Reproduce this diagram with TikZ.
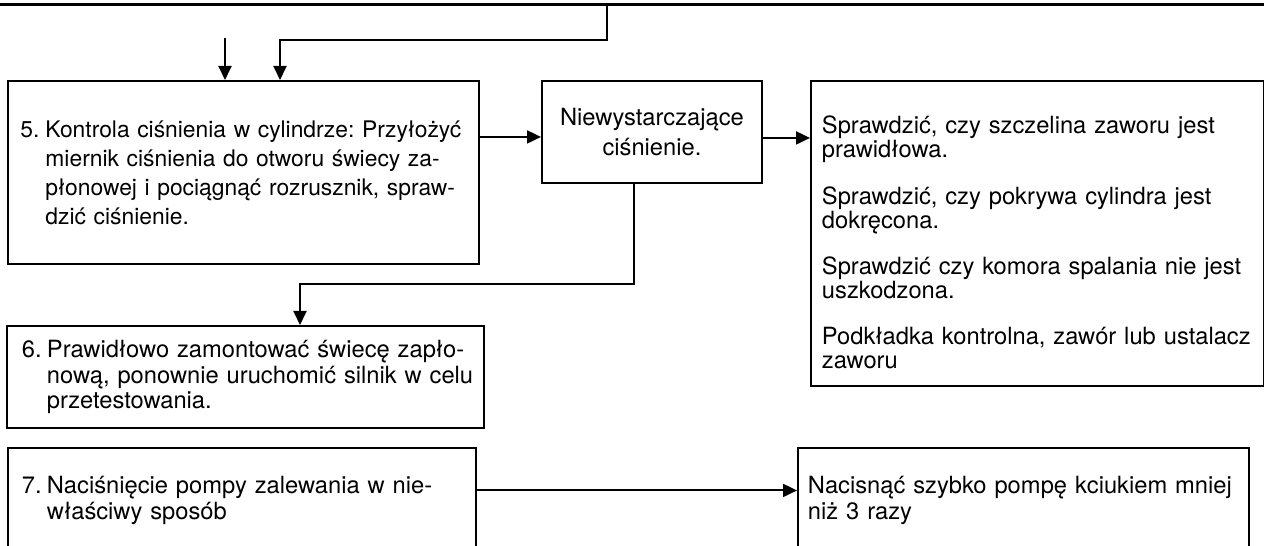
\documentclass[tikz,border=0pt]{standalone}
\usepackage{fontspec}
\setmainfont{TeX Gyre Heros}
\usetikzlibrary{arrows.meta}
\frenchspacing
\tikzset{
	box/.style={draw,rectangle,anchor=north west,inner xsep=0.28cm,inner ysep=0pt,
		font=\fontsize{13.5}{14.7}\selectfont},
	arr/.style={-{Triangle[length=0.28cm,width=0.26cm]}},
}
% one full (justified) line, one last line, number and indent
\newcommand{\jline}[1]{\hbox to\hsize{#1}}
\newcommand{\lline}[1]{\hbox to\hsize{#1\hfil}}
\newcommand{\nr}[1]{\makebox[0.5cm][l]{#1}}
\newcommand{\ind}{\hskip0.5cm\relax}
\begin{document}
\begin{tikzpicture}[line width=1.1pt,x=0.02cm,y=-0.02cm]
\clip (0,0) rectangle (1264,546);
\draw[line width=1.7pt] (0,5) -- (1264,5);
\node[box,text width=8.92cm,inner xsep=0.25cm,minimum height=3.66cm,
	font=\fontsize{13}{16.5}\selectfont] (k5) at (7,80)
	{\jline{\nr{5.}Kontrola ciśnienia w cylindrze: Przyłożyć}
	\jline{\ind miernik ciśnienia do otworu świecy za-}
	\jline{\ind płonowej i pociągnąć rozrusznik, spraw-}
	\lline{\ind dzić ciśnienie.}};
\node[box,text width=4cm,inner xsep=0.2cm,align=center,minimum height=2.04cm,
	font=\fontsize{13.5}{17}\selectfont] (niew) at (541,80)
	{Niewystarczające\\ciśnienie.\\[-0.1cm]};
\node[box,text width=8.62cm,inner xsep=0.22cm,minimum height=6.1cm,
	font=\fontsize{13.5}{13.6}\selectfont] (spr) at (810,80)
	{\vskip0.24cm
	\jline{Sprawdzić, czy szczelina zaworu jest}
	\lline{prawidłowa.}
	\vskip0.45cm
	\jline{Sprawdzić, czy pokrywa cylindra jest}
	\lline{dokręcona.}
	\vskip0.45cm
	\jline{Sprawdzić czy komora spalania nie jest}
	\lline{uszkodzona.}
	\vskip0.45cm
	\jline{Podkładka kontrolna, zawór lub ustalacz}
	\lline{zaworu}};
\node[box,text width=8.94cm,inner xsep=0.3cm,minimum height=2.04cm] (k6) at (6,325)
	{\jline{\nr{6.}Prawidłowo zamontować świecę zapło-}
	\jline{\ind nową, ponownie uruchomić silnik w celu}
	\lline{\ind przetestowania.}};
\node[box,text width=8.8cm,minimum height=2.1cm] (k7) at (7,447)
	{\jline{\nr{7.}Naciśnięcie pompy zalewania w nie-}
	\lline{\ind właściwy sposób}};
\node[box,text width=8.62cm,inner xsep=0.2cm,minimum height=2.1cm] (k8) at (797,447)
	{\jline{Nacisnąć szybko pompę kciukiem mniej}
	\lline{niż 3 razy}};
% connectors
\coordinate (t1) at (607,5);
\coordinate (b1) at (280,40);
\coordinate (b2) at (225,38);
\coordinate (c1) at (634,284);
\coordinate (c2) at (300,284);
\coordinate (a1) at ([yshift=-0.1cm]niew.west);
\coordinate (a2) at ([yshift=-0.12cm]niew.east);
\coordinate (a3) at ([yshift=0.2cm]k7.east);
\draw[arr] (t1) |- (b1) -- (b1 |- k5.north);
\draw[arr] (b2) -- (b2 |- k5.north);
\draw[arr] (k5.east |- a1) -- (a1);
\draw[arr] (a2) -- (a2 -| spr.west);
\draw[arr] (c1 |- niew.south) -- (c1) -- (c2) -- (c2 |- k6.north);
\draw[arr] (a3) -- (a3 -| k8.west);
\end{tikzpicture}
\end{document}
